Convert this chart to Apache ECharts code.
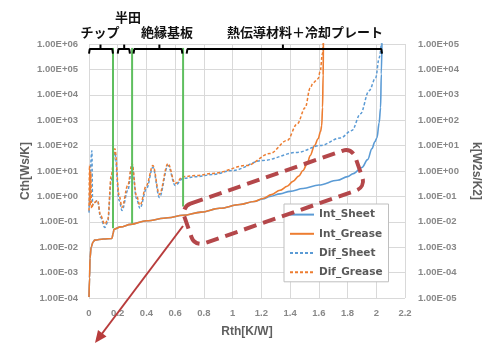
<!DOCTYPE html>
<html>
<head>
<meta charset="utf-8">
<script src="https://cdn.jsdelivr.net/npm/echarts@6/dist/echarts.min.js"></script>
<style>
html,body{margin:0;padding:0;background:#fff;}
#chart{width:496px;height:347px;}
</style>
</head>
<body>
<div id="chart"></div>
<script>
// ---- data ----
const intGreaseRth = [0, 0.004, 0.007, 0.015, 0.028, 0.04, 0.10, 0.16, 0.168, 0.174, 0.22, 0.29, 0.40, 0.55, 0.655, 0.78, 0.91, 1.05, 1.15, 1.21, 1.27, 1.33, 1.38, 1.42, 1.46, 1.49, 1.52, 1.54, 1.57, 1.595, 1.612, 1.62, 1.626, 1.63, 1.632];
const intGreaseCth = [1.1e-4, 6.3e-4, 3.7e-3, 1.0e-2, 1.6e-2, 1.9e-2, 2.1e-2, 2.2e-2, 3.5e-2, 5.1e-2, 6.3e-2, 7.9e-2, 0.11, 0.145, 0.18, 0.24, 0.34, 0.48, 0.63, 0.83, 1.17, 1.74, 2.5, 3.9, 6.3, 10.5, 20, 41, 100, 186, 355, 600, 3200, 6.3e4, 1.6e6];

const intSheetRth = [0, 0.004, 0.007, 0.015, 0.028, 0.04, 0.10, 0.16, 0.168, 0.174, 0.22, 0.29, 0.40, 0.55, 0.655, 0.78, 0.91, 1.05, 1.15, 1.21, 1.26, 1.33, 1.40, 1.49, 1.60, 1.73, 1.80, 1.84, 1.90, 1.94, 1.97, 1.99, 2.005, 2.02, 2.03, 2.035, 2.04];
const intSheetCth = [1.1e-4, 6.3e-4, 3.7e-3, 1.0e-2, 1.6e-2, 1.9e-2, 2.1e-2, 2.2e-2, 3.5e-2, 5.1e-2, 6.3e-2, 7.9e-2, 0.11, 0.145, 0.18, 0.24, 0.34, 0.48, 0.63, 0.79, 1.0, 1.26, 1.58, 2.04, 2.8, 4.3, 6.0, 7.9, 13.8, 28, 76, 141, 204, 794, 3100, 6.6e4, 1.6e6];

const difGreaseRth = [0, 0.004, 0.008, 0.012, 0.018, 0.03, 0.06, 0.08, 0.11, 0.13, 0.155, 0.18, 0.21, 0.23, 0.27, 0.30, 0.33, 0.355, 0.40, 0.445, 0.49, 0.55, 0.60, 0.655, 0.75, 0.86, 1.10, 1.26, 1.38, 1.45, 1.505, 1.54, 1.56, 1.595, 1.61, 1.625, 1.632];
const difGreaseK = [0.028, 1.66, 0.045, 0.87, 0.034, 0.054, 0.069, 0.018, 0.008, 0.0115, 0.66, 7.6, 0.11, 0.037, 0.27, 1.95, 0.11, 0.045, 0.27, 1.66, 0.12, 1.95, 0.32, 0.6, 0.66, 0.8, 1.66, 4.9, 16, 72, 310, 1860, 2950, 4300, 8700, 4.1e4, 1.2e5];

const difSheetRth = [0, 0.02, 0.025, 0.04, 0.06, 0.08, 0.11, 0.13, 0.155, 0.18, 0.21, 0.23, 0.27, 0.30, 0.33, 0.355, 0.40, 0.445, 0.49, 0.55, 0.60, 0.655, 0.75, 0.86, 1.0, 1.21, 1.45, 1.61, 1.75, 1.83, 1.89, 1.95, 1.996, 2.02, 2.036];
const difSheetK = [0.023, 6.3, 0.045, 0.058, 0.069, 0.015, 0.006, 0.0095, 0.43, 5.4, 0.069, 0.028, 0.17, 1.66, 0.083, 0.034, 0.2, 1.4, 0.091, 1.66, 0.27, 0.51, 0.6, 0.72, 1.05, 2.6, 5.4, 10, 20, 39, 178, 1450, 4700, 2.8e4, 1.2e5];

// layer boundaries (Rth) and where the green markers end (Cth)
const boundaryRth = [0.167, 0.30, 0.655];
const boundaryCthBottom = [0.056, 0.087, 0.40];
// brackets: [start, end, centre tick]
const bracketNames = ['チップ', '半田', '絶縁基板', '熱伝導材料＋冷却プレート'];
const bracketStart = [0, 0.20, 0.31, 0.68];
const bracketEnd = [0.167, 0.285, 0.65, 2.04];
const bracketCentre = [0.08, 0.245, 0.49, 1.35];

const seriesNames = ['Int_Sheet', 'Int_Grease', 'Dif_Sheet', 'Dif_Grease'];
const xTickStep = 0.2;

// ---- chart ----
const BLUE = '#5b9bd5', ORANGE = '#ed7d31', GREEN = '#5fbf5f';
const zip = (a, b) => a.map((v, i) => [v, b[i]]);
const expFmt = v => {
  const e = Math.round(Math.log10(v));
  return '1.00E' + (e < 0 ? '-' : '+') + String(Math.abs(e)).padStart(2, '0');
};
const tickFont = {color: '#888', fontSize: 9.5, fontWeight: 'bold', fontFamily: 'Liberation Sans'};
const nameFont = {color: '#5f5f5f', fontSize: 12, fontWeight: 'bold', fontFamily: 'Liberation Sans'};
const smooth = {smooth: 0.35, smoothMonotone: 'x'};

const series = [
  Object.assign({name: 'Int_Sheet', type: 'line', yAxisIndex: 0, data: zip(intSheetRth, intSheetCth), symbol: 'none', lineStyle: {color: BLUE, width: 1.6}, itemStyle: {color: BLUE}}, smooth),
  Object.assign({name: 'Int_Grease', type: 'line', yAxisIndex: 0, data: zip(intGreaseRth, intGreaseCth), symbol: 'none', lineStyle: {color: ORANGE, width: 1.6}, itemStyle: {color: ORANGE}}, smooth),
  Object.assign({name: 'Dif_Sheet', type: 'line', yAxisIndex: 1, data: zip(difSheetRth, difSheetK), symbol: 'none', lineStyle: {color: BLUE, width: 1.5, type: [3, 2]}, itemStyle: {color: BLUE}}, smooth),
  Object.assign({name: 'Dif_Grease', type: 'line', yAxisIndex: 1, data: zip(difGreaseRth, difGreaseK), symbol: 'none', lineStyle: {color: ORANGE, width: 1.5, type: [3, 2]}, itemStyle: {color: ORANGE}}, smooth)
];
boundaryRth.forEach((r, i) => {
  series.push({type: 'line', yAxisIndex: 0, silent: true, symbol: 'none', data: [[r, 7e5], [r, boundaryCthBottom[i]]], lineStyle: {color: GREEN, width: 2}, z: 5});
});
const topY = 6.3e5, endY = 4.2e5, tickY = 9.5e5;
bracketStart.forEach((s, i) => {
  const e = bracketEnd[i];
  series.push({type: 'line', yAxisIndex: 0, silent: true, symbol: 'none', clip: false,
    data: [[s, endY], [s + 0.005, topY], [e - 0.005, topY], [e, endY]], lineStyle: {color: '#000', width: 2}, z: 6});
  series.push({type: 'line', yAxisIndex: 0, silent: true, symbol: 'none', clip: false,
    data: [[bracketCentre[i], topY], [bracketCentre[i], tickY]], lineStyle: {color: '#000', width: 2}, z: 6});
});

const labelPos = [[100, 32], [128, 17], [167, 32], [305, 32]];
const graphic = bracketNames.map((t, i) => ({
  type: 'text', x: labelPos[i][0], y: labelPos[i][1], z: 50,
  style: {text: t, fill: '#111', font: 'bold 13px "Noto Sans CJK JP"', textAlign: 'center', textVerticalAlign: 'middle', verticalAlign: 'middle'}
}));
// red highlight annotation
graphic.push({type: 'rect', x: 181, y: 207, rotation: 0.335, z: 60,
  shape: {x: 0, y: 0, width: 181, height: 42, r: 10},
  style: {fill: 'none', stroke: '#b4474a', lineWidth: 4, lineDash: [13, 7]}});
graphic.push({type: 'line', z: 60, shape: {x1: 183, y1: 226, x2: 101, y2: 335}, style: {stroke: '#b83c3c', lineWidth: 2}});
graphic.push({type: 'polygon', z: 60, shape: {points: [[95, 343], [106.5, 336.5], [98, 330]]}, style: {fill: '#b83c3c'}});

const chart = echarts.init(document.getElementById('chart'));
chart.setOption({
  animation: false,
  backgroundColor: '#fff',
  grid: {left: 89, right: 91, top: 44, bottom: 49},
  xAxis: {
    type: 'value', min: 0, max: 2.2, interval: xTickStep,
    axisLine: {show: false}, axisTick: {show: false},
    splitLine: {show: true, lineStyle: {color: '#d9d9d9', width: 1}},
    axisLabel: Object.assign({margin: 10, formatter: v => String(parseFloat(v.toFixed(1)))}, tickFont),
    name: 'Rth[K/W]', nameLocation: 'middle', nameGap: 28, nameTextStyle: nameFont
  },
  yAxis: [
    {type: 'log', logBase: 10, min: 1e-4, max: 1e6, interval: 1, position: 'left',
      axisLine: {show: false}, axisTick: {show: false},
      splitLine: {show: true, lineStyle: {color: '#d9d9d9', width: 1}},
      axisLabel: Object.assign({margin: 11, formatter: expFmt}, tickFont),
      name: 'Cth[Ws/K]', nameLocation: 'middle', nameGap: 57, nameRotate: 90, nameMoveOverlap: false, nameTextStyle: nameFont},
    {type: 'log', logBase: 10, min: 1e-5, max: 1e5, interval: 1, position: 'right',
      axisLine: {show: false}, axisTick: {show: false}, splitLine: {show: false},
      axisLabel: Object.assign({margin: 13, formatter: expFmt}, tickFont),
      name: 'k[W2s/K2]', nameLocation: 'middle', nameGap: 62, nameRotate: -90, nameTextStyle: nameFont}
  ],
  legend: {
    data: seriesNames, orient: 'vertical', left: 284, top: 204,
    padding: [5, 6, 4, 5], itemGap: 8, itemWidth: 24, itemHeight: 14,
    itemStyle: {opacity: 0},
    backgroundColor: '#fff', borderColor: '#bfbfbf', borderWidth: 1,
    textStyle: {color: '#595959', fontSize: 10.5, fontWeight: 'bold', fontFamily: 'DejaVu Sans'}
  },
  series: series,
  graphic: graphic
});
</script>
</body>
</html>
